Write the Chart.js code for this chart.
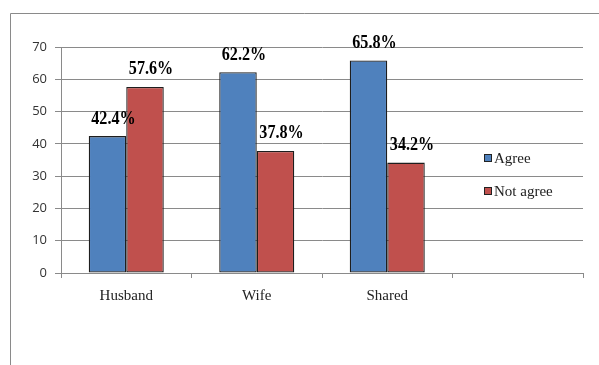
<!DOCTYPE html>
<html>
<head>
<meta charset="utf-8">
<script src="https://cdn.jsdelivr.net/npm/chart.js@4.4.1/dist/chart.umd.min.js"></script>
<style>
  html, body { margin: 0; padding: 0; background: #fff; }
  canvas { display: block; }
</style>
</head>
<body>
<canvas id="chart" width="599" height="365"></canvas>
<script>
// kategorier (sista är tom, som i originalet)
const categories = ['Husband', 'Wife', 'Shared', ''];
const agree = [42.4, 62.2, 65.8, null];
const notAgree = [57.6, 37.8, 34.2, null];
const yTicks = [0, 10, 20, 30, 40, 50, 60, 70];

const blue = '#4F81BD';
const red = '#C0504D';

// ram runt hela diagrammet (höger/nederkant syns inte i bilden)
const framePlugin = {
  id: 'frame',
  beforeDraw(chart) {
    const ctx = chart.ctx;
    ctx.save();
    ctx.strokeStyle = '#8a8a8a';
    ctx.lineWidth = 1;
    ctx.beginPath();
    ctx.moveTo(10.5, 365);
    ctx.lineTo(10.5, 13.5);
    ctx.lineTo(599, 13.5);
    ctx.stroke();
    ctx.restore();
  }
};

// procentetiketter ovanför staplarna (lite hoptryckt text som i originalet)
const labelPlugin = {
  id: 'barLabels',
  afterDatasetsDraw(chart) {
    const ctx = chart.ctx;
    chart.data.datasets.forEach((ds, i) => {
      const meta = chart.getDatasetMeta(i);
      meta.data.forEach((bar, j) => {
        const v = ds.data[j];
        if (v == null) return;
        ctx.save();
        ctx.translate(bar.x + 6, bar.y - 8);
        ctx.scale(0.85, 1);
        ctx.font = 'bold 19px "Liberation Serif", serif';
        ctx.fillStyle = '#000';
        ctx.textAlign = 'center';
        ctx.textBaseline = 'bottom';
        ctx.fillText(v.toFixed(1) + '%', 0, 0);
        ctx.restore();
      });
    });
  }
};

// legend inne i plotytan, över den tomma fjärde kategorin
const legendPlugin = {
  id: 'innerLegend',
  afterDraw(chart) {
    const ctx = chart.ctx;
    const x = Math.round(chart.scales.x.getPixelForValue(3) - 34);
    const y0 = Math.round(chart.scales.y.getPixelForValue(35.5));
    ctx.save();
    ctx.font = '15px "Liberation Serif", serif';
    ctx.textBaseline = 'middle';
    chart.data.datasets.forEach((ds, i) => {
      const y = y0 + i * 33;
      ctx.fillStyle = ds.backgroundColor;
      ctx.fillRect(x, y - 4, 8, 8);
      ctx.strokeStyle = '#222';
      ctx.lineWidth = 1;
      ctx.strokeRect(x + 0.5, y - 3.5, 7, 7);
      ctx.fillStyle = '#222';
      ctx.fillText(ds.label, x + 10, y + 1);
    });
    ctx.restore();
  }
};

const datasets = [
  {
    label: 'Agree',
    data: agree,
    backgroundColor: blue,
    borderColor: '#1e1e1e',
    borderWidth: 1.3,
    borderSkipped: false
  },
  {
    label: 'Not agree',
    data: notAgree,
    backgroundColor: red,
    borderColor: '#1e1e1e',
    borderWidth: 1.3,
    borderSkipped: false
  }
];

new Chart(document.getElementById('chart'), {
  type: 'bar',
  data: { labels: categories, datasets },
  plugins: [framePlugin, labelPlugin, legendPlugin],
  options: {
    responsive: false,
    animation: false,
    layout: { padding: { left: 0, top: 47, right: 16, bottom: 0 } },
    datasets: {
      bar: { categoryPercentage: 0.575, barPercentage: 1.0 }
    },
    plugins: {
      legend: { display: false },
      tooltip: { enabled: false }
    },
    scales: {
      x: {
        afterFit(scale) { scale.height = 92; },
        grid: {
          offset: true,
          drawOnChartArea: false,
          drawTicks: true,
          tickLength: 5,
          color: '#8a8a8a'
        },
        border: { color: '#8a8a8a', width: 1 },
        ticks: {
          color: '#222',
          padding: 9,
          font: { family: '"Liberation Serif", serif', size: 15 }
        }
      },
      y: {
        min: 0,
        max: 70,
        afterFit(scale) { scale.width = 61; },
        afterBuildTicks(scale) {
          scale.ticks = yTicks.map((v) => ({ value: v }));
        },
        grid: {
          color: '#8a8a8a',
          tickLength: 6,
          drawTicks: true
        },
        border: { color: '#8a8a8a', width: 1 },
        ticks: {
          color: '#333',
          padding: 8,
          font: { family: '"Open Sans", sans-serif', size: 13 }
        }
      }
    }
  }
});
</script>
</body>
</html>
